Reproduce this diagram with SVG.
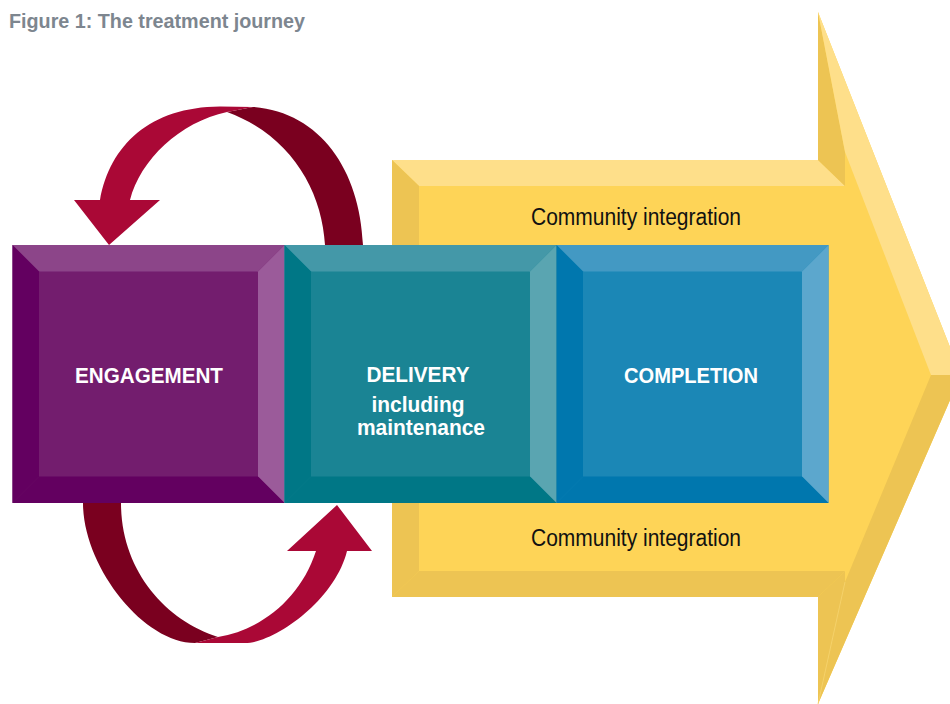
<svg xmlns="http://www.w3.org/2000/svg" width="950" height="704" viewBox="0 0 950 704">
<style>
.title{font-family:"Liberation Sans",Arial,sans-serif;font-weight:bold;font-size:20px;fill:#7D868F}
.lbl{font-family:"Liberation Sans",Arial,sans-serif;font-weight:bold;font-size:22px;fill:#FFFFFF;text-anchor:middle}
.ci{font-family:"Liberation Sans",Arial,sans-serif;font-size:23px;fill:#111111;text-anchor:middle}
.yf{fill:#FED457}.yl{fill:#FEDF8A}.yd{fill:#EDC453}
.bright{fill:#AA0836}.dark{fill:#7A001F}
</style>
<rect width="950" height="704" fill="#FFFFFF"/>
<text class="title" x="9" y="28" textLength="296" lengthAdjust="spacingAndGlyphs">Figure 1: The treatment journey</text>

<g id="community-integration">
  <polygon class="yf" points="392,160 818,160 818,12 961,375 818,704 818,597 392,597"/>
  <polygon class="yl" points="392,160 818,160 845,186 419,186"/>
  <polygon class="yd" points="392,160 419,186 419,571 392,597"/>
  <polygon class="yd" points="392,597 419,571 845,571 818,597"/>
  <polygon class="yd" points="818,12 845,152 845,186 818,160"/>
  <polygon class="yl" points="818,12 961,375 931,375 845,152"/>
  <polygon class="yd" points="818,597 845,571 845,582 931,375 961,375 818,704"/>
  <line x1="845" y1="582" x2="818" y2="704" stroke="#F6D470" stroke-width="0.8"/>
  <text class="ci" x="636" y="225" textLength="210" lengthAdjust="spacingAndGlyphs">Community integration</text>
  <text class="ci" x="636" y="546" textLength="210" lengthAdjust="spacingAndGlyphs">Community integration</text>
</g>

<g id="connectors">
  <g id="loop-top">
    <path class="dark" d="M227,112 L253,107 C320,112 360,170 363,245 L325,245 C322,190 290,135 227,112 Z"/>
    <path class="bright" d="M74,200 L100,200 C110,145 150,107 220,106.5 L253,107 L227,112 C180,122 140,160 130,200 L160,200 L109,245 Z"/>
  </g>
  <g id="loop-bottom">
    <path class="dark" d="M83,503 L121,503 C121,570 165,620 218,637 L195,643 C143,643 83,566 83,503 Z"/>
    <path class="bright" d="M195,643 L245,643 C275,643 335,600 347,551 L372,551 L337,505 L287,551 L316,551 C300,600 260,630 218,637 Z"/>
  </g>
</g>

<g id="engagement">
  <rect x="12.5" y="245" width="272" height="258" fill="#731D6E"/>
  <polygon points="12.5,245 284.5,245 258,271.5 39,271.5" fill="#8C4589"/>
  <polygon points="12.5,245 39,271.5 39,476.5 12.5,503" fill="#630060"/>
  <polygon points="284.5,245 284.5,503 258,476.5 258,271.5" fill="#9B5B9A"/>
  <polygon points="12.5,503 39,476.5 258,476.5 284.5,503" fill="#630060"/>
  <text class="lbl" x="149" y="383" textLength="148" lengthAdjust="spacingAndGlyphs">ENGAGEMENT</text>
</g>

<g id="delivery">
  <rect x="284.5" y="245" width="272" height="258" fill="#1A8494"/>
  <polygon points="284.5,245 556.5,245 530,271.5 311,271.5" fill="#4498A8"/>
  <polygon points="284.5,245 311,271.5 311,476.5 284.5,503" fill="#007786"/>
  <polygon points="556.5,245 556.5,503 530,476.5 530,271.5" fill="#5AA5B1"/>
  <polygon points="284.5,503 311,476.5 530,476.5 556.5,503" fill="#007786"/>
  <text class="lbl" x="418" y="382" textLength="103" lengthAdjust="spacingAndGlyphs">DELIVERY</text>
  <text class="lbl" x="418" y="412" textLength="93" lengthAdjust="spacingAndGlyphs">including</text>
  <text class="lbl" x="421" y="435" textLength="128" lengthAdjust="spacingAndGlyphs">maintenance</text>
</g>

<g id="completion">
  <rect x="556.5" y="245" width="272" height="258" fill="#1B87B6"/>
  <polygon points="556.5,245 828.5,245 802,271.5 583,271.5" fill="#4399C3"/>
  <polygon points="556.5,245 583,271.5 583,476.5 556.5,503" fill="#0077AE"/>
  <polygon points="828.5,245 828.5,503 802,476.5 802,271.5" fill="#5CA7CD"/>
  <polygon points="556.5,503 583,476.5 802,476.5 828.5,503" fill="#0077AE"/>
  <text class="lbl" x="691" y="383" textLength="134" lengthAdjust="spacingAndGlyphs">COMPLETION</text>
</g>
</svg>
